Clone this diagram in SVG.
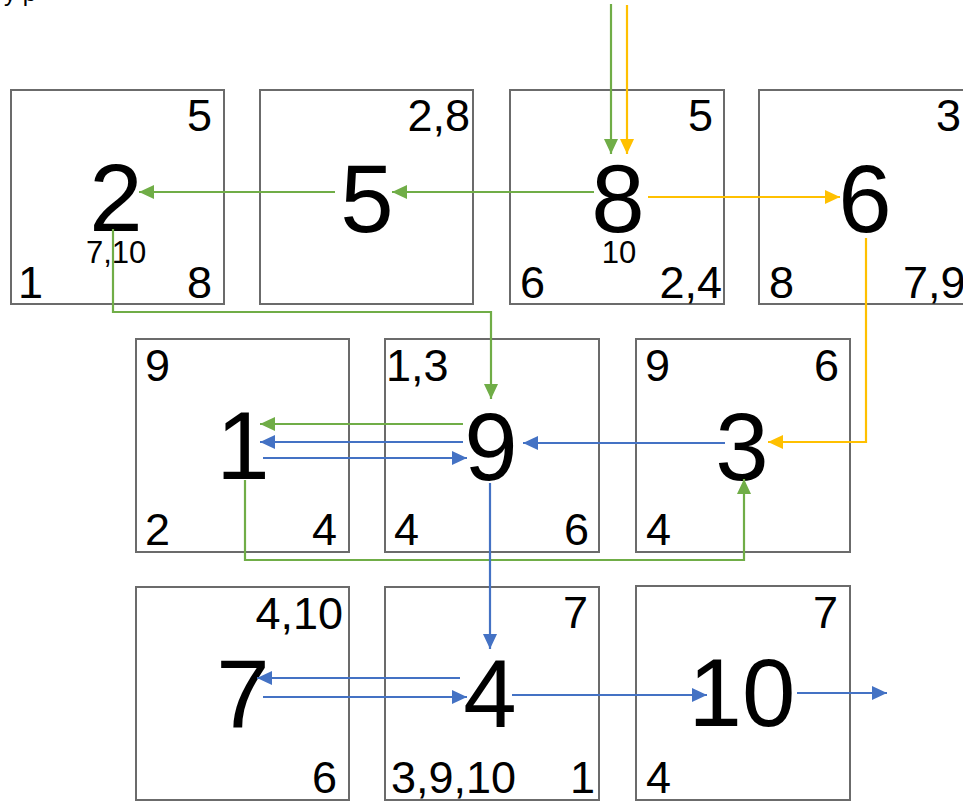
<svg xmlns="http://www.w3.org/2000/svg" width="963" height="801" viewBox="0 0 963 801">
<style>
.box{fill:#fff;stroke:#6b6b6b;stroke-width:2}
.big{font-family:"Liberation Sans",Arial,sans-serif;font-size:96px;fill:#000;text-anchor:middle}
.sm{font-family:"Liberation Sans",Arial,sans-serif;font-size:45px;fill:#000}
.xs{font-family:"Liberation Sans",Arial,sans-serif;font-size:31px;fill:#000}
.e{text-anchor:end}
.m{text-anchor:middle}
.g{fill:none;stroke:#70AD47;stroke-width:2.2;marker-end:url(#ag)}
.o{fill:none;stroke:#FFC000;stroke-width:2.2;marker-end:url(#ao)}
.b{fill:none;stroke:#4472C4;stroke-width:2.2;marker-end:url(#ab)}
</style>
<defs>
<marker id="ag" markerUnits="userSpaceOnUse" markerWidth="16" markerHeight="14" refX="15" refY="7" orient="auto"><path d="M0,0 L15,7 L0,14 z" fill="#70AD47"/></marker>
<marker id="ao" markerUnits="userSpaceOnUse" markerWidth="16" markerHeight="14" refX="15" refY="7" orient="auto"><path d="M0,0 L15,7 L0,14 z" fill="#FFC000"/></marker>
<marker id="ab" markerUnits="userSpaceOnUse" markerWidth="16" markerHeight="14" refX="15" refY="7" orient="auto"><path d="M0,0 L15,7 L0,14 z" fill="#4472C4"/></marker>
</defs>
<rect width="963" height="801" fill="#fff"/>
<text x="4" y="1" font-family="Liberation Sans, Arial, sans-serif" font-size="24">y p</text>

<g id="node-2">
<rect class="box" x="11" y="90" width="213" height="214"/>
<text class="big" x="116" y="231">2</text>
<text class="sm e" x="212" y="131">5</text>
<text class="sm" x="18" y="298">1</text>
<text class="sm e" x="212" y="298">8</text>
<text class="xs" x="86" y="263">7,10</text>
</g>
<g id="node-5">
<rect class="box" x="260" y="90" width="213" height="214"/>
<text class="big" x="367" y="232">5</text>
<text class="sm e" x="470" y="131">2,8</text>
</g>
<g id="node-8">
<rect class="box" x="510" y="90" width="214" height="214"/>
<text class="big" x="618" y="232">8</text>
<text class="sm e" x="713" y="131">5</text>
<text class="sm" x="520" y="298">6</text>
<text class="sm e" x="722" y="298">2,4</text>
<text class="xs m" x="619" y="263">10</text>
</g>
<g id="node-6">
<rect class="box" x="759" y="90" width="213" height="214"/>
<text class="big" x="865" y="232">6</text>
<text class="sm" x="936" y="131">3</text>
<text class="sm" x="769" y="298">8</text>
<text class="sm" x="903" y="298">7,9</text>
</g>
<g id="node-1">
<rect class="box" x="136" y="339" width="213" height="213"/>
<text class="big" x="243" y="479">1</text>
<text class="sm" x="145" y="381">9</text>
<text class="sm" x="145" y="545">2</text>
<text class="sm e" x="337" y="545">4</text>
</g>
<g id="node-9">
<rect class="box" x="385" y="339" width="214" height="213"/>
<text class="big" x="491" y="480">9</text>
<text class="sm" x="386" y="381">1,3</text>
<text class="sm" x="394" y="545">4</text>
<text class="sm e" x="589" y="545">6</text>
</g>
<g id="node-3">
<rect class="box" x="636" y="339" width="214" height="213"/>
<text class="big" x="742" y="480">3</text>
<text class="sm" x="645" y="381">9</text>
<text class="sm e" x="839" y="381">6</text>
<text class="sm" x="646" y="545">4</text>
</g>
<g id="node-7">
<rect class="box" x="136" y="587" width="213" height="213"/>
<text class="big" x="243" y="727">7</text>
<text class="sm e" x="343" y="629">4,10</text>
<text class="sm e" x="337" y="793">6</text>
</g>
<g id="node-4">
<rect class="box" x="385" y="587" width="214" height="213"/>
<text class="big" x="490" y="727">4</text>
<text class="sm e" x="588" y="628">7</text>
<text class="sm" x="391" y="793">3,9,10</text>
<text class="sm e" x="595" y="793">1</text>
</g>
<g id="node-10">
<rect class="box" x="636" y="586" width="214" height="214"/>
<text class="big" x="742" y="726">10</text>
<text class="sm e" x="838" y="628">7</text>
<text class="sm" x="646" y="793">4</text>
</g>

<g id="connectors">
<path class="g" d="M611,4 V154"/>
<path class="o" d="M627,5 V154"/>
<path class="g" d="M594,192 H392"/>
<path class="g" d="M335,192 H139"/>
<path class="g" d="M113,229 V312 H491 V399"/>
<path class="o" d="M648,197 H840"/>
<path class="o" d="M866,238 V442 H768"/>
<path class="g" d="M463,424 H260"/>
<path class="b" d="M463,442 H260"/>
<path class="b" d="M263,458 H467"/>
<path class="b" d="M725,443 H523"/>
<path class="g" d="M245,480 V560 H744 V479"/>
<path class="b" d="M490,483 V649"/>
<path class="b" d="M460,678 H257"/>
<path class="b" d="M263,697 H467"/>
<path class="b" d="M512,695 H707"/>
<path class="b" d="M797,693 H887"/>
</g>
</svg>
